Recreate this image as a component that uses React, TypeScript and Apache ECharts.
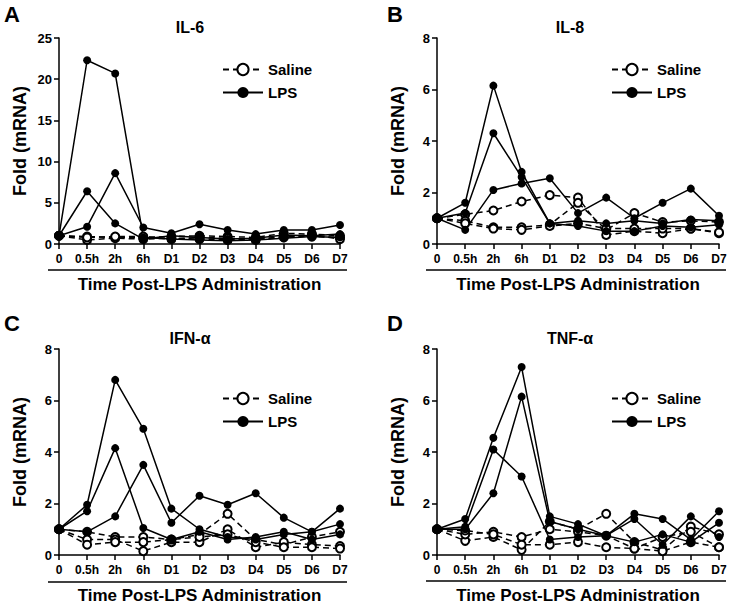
import React, { useEffect, useRef } from "react";
import * as echarts from "echarts";

const timePoints = ["0", "0.5h", "2h", "6h", "D1", "D2", "D3", "D4", "D5", "D6", "D7"];

const panelLetters = ["A", "B", "C", "D"];
const panelTitles = ["IL-6", "IL-8", "IFN-\u03b1", "TNF-\u03b1"];
const yMaxes = [25, 8, 8, 8];
const yIntervals = [5, 2, 2, 2];

// IL-6
const il6Lps = [
  [1, 22.3, 20.7, 0.8, 0.6, 0.5, 0.4, 0.5, 0.7, 0.9, 0.8],
  [1, 6.4, 2.5, 0.6, 1.0, 0.8, 0.6, 0.7, 1.1, 1.0, 1.2],
  [1, 2.1, 8.6, 2.0, 1.3, 2.4, 1.7, 1.2, 1.7, 1.7, 2.3],
];
const il6Saline = [
  [1, 0.9, 0.8, 0.8, 0.9, 1.0, 0.9, 0.8, 1.3, 1.2, 1.0],
  [1, 0.5, 0.7, 0.6, 0.7, 0.6, 0.5, 0.6, 0.9, 0.9, 0.8],
  [1, 0.8, 0.9, 0.9, 0.6, 0.8, 0.7, 0.5, 0.8, 1.1, 0.6],
];

// IL-8
const il8Lps = [
  [1, 1.6, 6.15, 2.8, 0.8, 0.9, 0.8, 0.9, 0.8, 0.95, 0.9],
  [1, 1.2, 4.3, 2.6, 0.8, 0.7, 0.5, 0.5, 0.7, 0.65, 0.75],
  [1, 0.55, 2.1, 2.35, 2.55, 1.2, 1.8, 1.0, 1.6, 2.15, 1.1],
];
const il8Saline = [
  [1, 1.15, 1.3, 1.65, 1.9, 1.8, 0.35, 0.5, 0.42, 0.6, 0.42],
  [1, 0.9, 0.65, 0.65, 0.75, 1.6, 0.55, 1.2, 0.85, 0.9, 0.85],
  [1, 0.8, 0.6, 0.55, 0.7, 0.8, 0.6, 0.6, 0.6, 0.6, 0.45],
];

// IFN-alpha
const ifnLps = [
  [1, 1.95, 6.8, 4.9, 1.8, 1.0, 0.7, 0.6, 0.8, 0.9, 1.2],
  [1, 1.7, 4.15, 1.05, 0.6, 0.9, 0.6, 0.7, 0.9, 0.6, 0.8],
  [1, 0.9, 1.5, 3.5, 1.25, 2.3, 1.95, 2.4, 1.45, 0.9, 1.8],
];
const ifnSaline = [
  [1, 0.9, 0.7, 0.7, 0.6, 0.8, 1.6, 0.6, 0.4, 0.7, 0.9],
  [1, 0.6, 0.6, 0.15, 0.5, 0.5, 1.0, 0.3, 0.5, 0.4, 0.35],
  [1, 0.4, 0.5, 0.5, 0.6, 0.7, 0.8, 0.5, 0.3, 0.3, 0.25],
];

// TNF-alpha
const tnfLps = [
  [1, 1.4, 4.55, 7.3, 1.5, 1.2, 0.75, 1.6, 1.4, 0.6, 1.7],
  [1, 1.1, 4.1, 3.05, 0.6, 0.7, 0.75, 1.4, 0.4, 1.5, 0.7],
  [1, 1.0, 2.4, 6.15, 1.3, 1.0, 0.75, 0.5, 0.8, 0.5, 1.25],
];
const tnfSaline = [
  [1, 0.55, 0.7, 0.2, 1.3, 1.0, 1.6, 0.5, 0.2, 1.1, 0.8],
  [1, 0.8, 0.9, 0.7, 1.0, 0.9, 0.75, 0.25, 0.7, 0.9, 0.3],
  [1, 0.95, 0.8, 0.4, 0.4, 0.5, 0.3, 0.25, 0.15, 0.5, 0.3],
];

const lpsSets = [il6Lps, il8Lps, ifnLps, tnfLps];
const salineSets = [il6Saline, il8Saline, ifnSaline, tnfSaline];

const FONT = "'Liberation Sans', Arial, Helvetica, sans-serif";

const grids = [
  { left: 59, top: 38, width: 281, height: 206 },
  { left: 437, top: 38, width: 282, height: 206 },
  { left: 59, top: 349, width: 281, height: 207 },
  { left: 437, top: 349, width: 282, height: 206 },
];

export default function App() {
  const ref = useRef<HTMLDivElement>(null);

  useEffect(() => {
    if (!ref.current) return;
    const chart = echarts.init(ref.current, null, { renderer: "svg" });

    const xAxes: any[] = [];
    const yAxes: any[] = [];
    const series: any[] = [];
    const legends: any[] = [];
    const graphics: any[] = [];

    grids.forEach((g, i) => {
      xAxes.push({
        type: "category",
        gridIndex: i,
        data: timePoints,
        boundaryGap: false,
        axisLine: { show: true, lineStyle: { color: "#000", width: 1.5 } },
        axisTick: { show: true, length: 5, lineStyle: { color: "#000", width: 1.5 } },
        axisLabel: {
          color: "#000",
          fontSize: 12,
          fontWeight: "bold",
          fontFamily: FONT,
          margin: 9,
          interval: 0,
        },
        splitLine: { show: false },
        name: "Time Post-LPS Administration",
        nameLocation: "middle",
        nameGap: 32,
        nameTextStyle: { color: "#000", fontSize: 17, fontWeight: "bold", fontFamily: FONT },
      });
      yAxes.push({
        type: "value",
        gridIndex: i,
        min: 0,
        max: yMaxes[i],
        interval: yIntervals[i],
        axisLine: { show: true, lineStyle: { color: "#000", width: 1.5 } },
        axisTick: { show: true, length: 5, lineStyle: { color: "#000", width: 1.5 } },
        axisLabel: { color: "#000", fontSize: 13, fontWeight: "bold", fontFamily: FONT, margin: 7 },
        splitLine: { show: false },
        name: "Fold (mRNA)",
        nameLocation: "middle",
        nameGap: 30,
        nameTextStyle: { color: "#000", fontSize: 18, fontWeight: "bold", fontFamily: FONT },
      });

      salineSets[i].forEach((arr) => {
        series.push({
          type: "line",
          name: "Saline",
          xAxisIndex: i,
          yAxisIndex: i,
          data: arr,
          symbol: "emptyCircle",
          symbolSize: 8,
          lineStyle: { color: "#000", width: 1.5, type: [6, 4] },
          itemStyle: { color: "#000", borderColor: "#000", borderWidth: 2 },
          emphasis: { disabled: true },
        });
      });
      lpsSets[i].forEach((arr) => {
        series.push({
          type: "line",
          name: "LPS",
          xAxisIndex: i,
          yAxisIndex: i,
          data: arr,
          symbol: "circle",
          symbolSize: 8,
          lineStyle: { color: "#000", width: 1.5, type: "solid" },
          itemStyle: { color: "#000" },
          emphasis: { disabled: true },
        });
      });

      legends.push({
        orient: "vertical",
        left: g.left + (i % 2 === 0 ? 163 : 174),
        top: g.top + (i < 2 ? 24 : 42),
        padding: 0,
        itemWidth: 40,
        itemHeight: 14,
        itemGap: 8,
        selectedMode: false,
        data: ["Saline", "LPS"],
        textStyle: { color: "#000", fontSize: 15, fontWeight: "bold", fontFamily: FONT },
      });

      // underline below x labels
      graphics.push({
        type: "line",
        shape: { x1: g.left - 11, y1: g.top + g.height + 26, x2: g.left + g.width + 7, y2: g.top + g.height + 26 },
        style: { stroke: "#000", lineWidth: 1.5 },
        silent: true,
      });
      // panel title
      graphics.push({
        type: "text",
        x: g.left + (i % 2 === 0 ? 131 : 133),
        y: g.top - 11,
        style: {
          text: panelTitles[i],
          fill: "#000",
          fontSize: 16,
          fontWeight: "bold",
          fontFamily: FONT,
          align: "center",
          verticalAlign: "middle",
        },
        silent: true,
      });
      // panel letter
      graphics.push({
        type: "text",
        x: i % 2 === 0 ? 12 : 395,
        y: i < 2 ? 14 : 323,
        style: {
          text: panelLetters[i],
          fill: "#000",
          fontSize: 22,
          fontWeight: "bold",
          fontFamily: FONT,
          align: "center",
          verticalAlign: "middle",
        },
        silent: true,
      });
    });

    chart.setOption({
      animation: false,
      backgroundColor: "#fff",
      grid: grids.map((g) => ({ ...g, containLabel: false })),
      xAxis: xAxes,
      yAxis: yAxes,
      legend: legends,
      series,
      graphic: graphics,
    });

    return () => chart.dispose();
  }, []);

  return (
    <div
      ref={ref}
      style={{ position: "fixed", left: 0, top: 0, width: 730, height: 605, background: "#fff" }}
    />
  );
}
